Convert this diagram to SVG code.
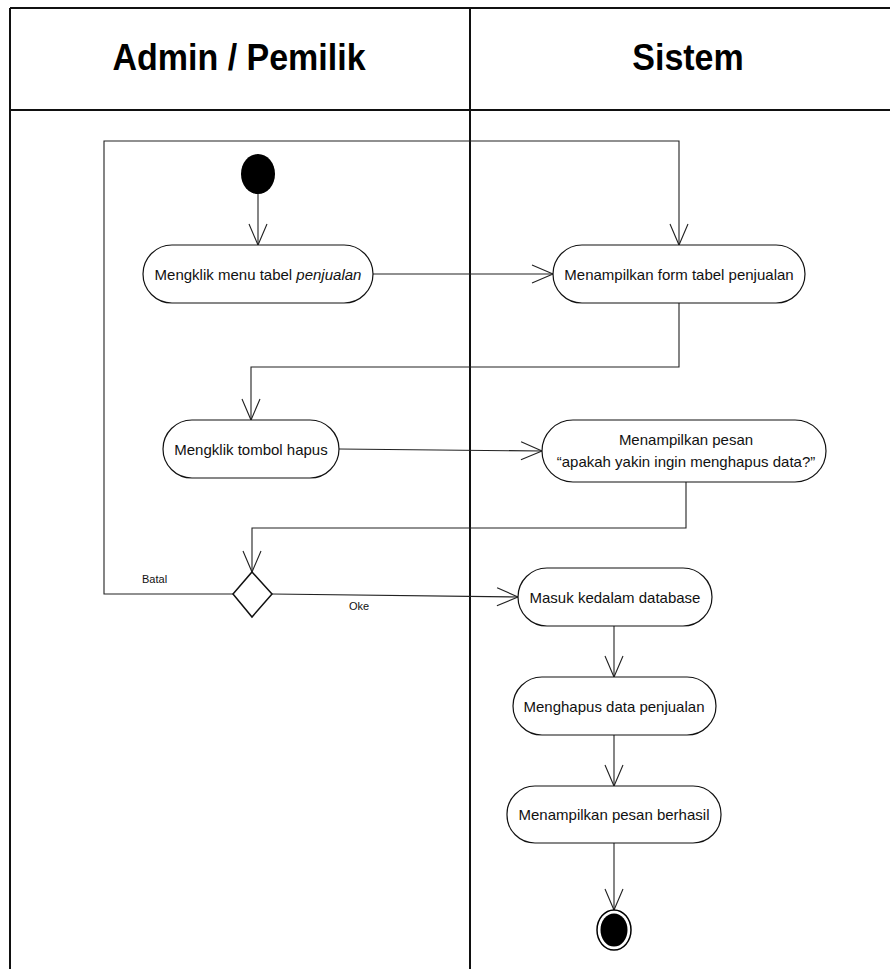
<svg xmlns="http://www.w3.org/2000/svg" width="890" height="969" viewBox="0 0 890 969">
  <style>
    .frame { fill: none; stroke: #111; stroke-width: 2; }
    .lane-title { font-family: "Liberation Sans", Arial, sans-serif; font-size: 34px; font-weight: bold; fill: #000; text-anchor: middle; }
    .action { fill: #fff; stroke: #111; stroke-width: 1.2; }
    .label { font-family: "Liberation Sans", Arial, sans-serif; font-size: 15px; fill: #111; text-anchor: middle; }
    .guard { font-family: "Liberation Sans", Arial, sans-serif; font-size: 11px; fill: #111; }
    .flow { fill: none; stroke: #222; stroke-width: 1.1; marker-end: url(#open-arrow); }
  </style>
  <defs>
    <marker id="open-arrow" markerUnits="userSpaceOnUse" viewBox="-23 -11 25 22" refX="0" refY="0" markerWidth="25" markerHeight="22" orient="auto" overflow="visible">
      <path d="M-21,-9 L0,0 L-21,9" fill="none" stroke="#222" stroke-width="1.1"/>
    </marker>
  </defs>

  <rect width="890" height="969" fill="#fff"/>

  <!-- swimlane frame -->
  <g id="swimlanes">
    <line class="frame" x1="10" y1="8" x2="890" y2="8"/>
    <line class="frame" x1="10" y1="110" x2="890" y2="110"/>
    <line class="frame" x1="10" y1="8" x2="10" y2="969"/>
    <line class="frame" x1="470" y1="8" x2="470" y2="969"/>
    <text class="lane-title" transform="translate(239,70) scale(1,1.1)">Admin / Pemilik</text>
    <text class="lane-title" transform="translate(688,70) scale(1,1.1)">Sistem</text>
  </g>

  <!-- control flows -->
  <g id="connectors">
    <path class="flow" d="M258,194 L258,245"/>
    <path class="flow" d="M373,274 L553,274"/>
    <path class="flow" d="M679,303 L679,367 L251,367 L251,420"/>
    <path class="flow" d="M339,449 L542,451"/>
    <path class="flow" d="M686,482 L686,528 L252,528 L252,572"/>
    <path class="flow" d="M272,594 L518,597"/>
    <path class="flow" d="M233,594 L104,594 L104,141 L679,141 L679,245"/>
    <path class="flow" d="M614,626 L614,677"/>
    <path class="flow" d="M614,735 L614,786"/>
    <path class="flow" d="M614,843 L614,910"/>
    <text class="guard" x="142" y="583">Batal</text>
    <text class="guard" x="349" y="610">Oke</text>
  </g>

  <g id="start">
    <ellipse cx="258" cy="174" rx="17" ry="20" fill="#000"/>
  </g>

  <g id="klik-menu">
    <rect class="action" x="143" y="245" width="230" height="58" rx="29" ry="29"/>
    <text class="label" x="258" y="280">Mengklik menu tabel <tspan font-style="italic">penjualan</tspan></text>
  </g>

  <g id="tampil-form">
    <rect class="action" x="553" y="245" width="252" height="58" rx="29" ry="29"/>
    <text class="label" x="679" y="280">Menampilkan form tabel penjualan</text>
  </g>

  <g id="klik-hapus">
    <rect class="action" x="163" y="420" width="176" height="58" rx="29" ry="29"/>
    <text class="label" x="251" y="455">Mengklik tombol hapus</text>
  </g>

  <g id="tampil-konfirmasi">
    <rect class="action" x="542" y="420" width="284" height="62" rx="31" ry="31"/>
    <text class="label" x="686" y="445">Menampilkan pesan</text>
    <text class="label" x="686" y="467">“apakah yakin ingin menghapus data?”</text>
  </g>

  <g id="keputusan">
    <polygon points="252,572 272,594 252,617 233,594" fill="#fff" stroke="#111" stroke-width="1.5"/>
  </g>

  <g id="masuk-database">
    <rect class="action" x="518" y="568" width="194" height="58" rx="29" ry="29"/>
    <text class="label" x="615" y="603">Masuk kedalam database</text>
  </g>

  <g id="hapus-data">
    <rect class="action" x="513" y="677" width="203" height="58" rx="29" ry="29"/>
    <text class="label" x="614" y="712">Menghapus data penjualan</text>
  </g>

  <g id="pesan-berhasil">
    <rect class="action" x="507" y="786" width="214" height="57" rx="28" ry="28"/>
    <text class="label" x="614" y="820">Menampilkan pesan berhasil</text>
  </g>

  <g id="end">
    <ellipse cx="614" cy="930" rx="17" ry="20" fill="#fff" stroke="#000" stroke-width="1.5"/>
    <ellipse cx="614" cy="930" rx="13.5" ry="16.5" fill="#000"/>
  </g>
</svg>
